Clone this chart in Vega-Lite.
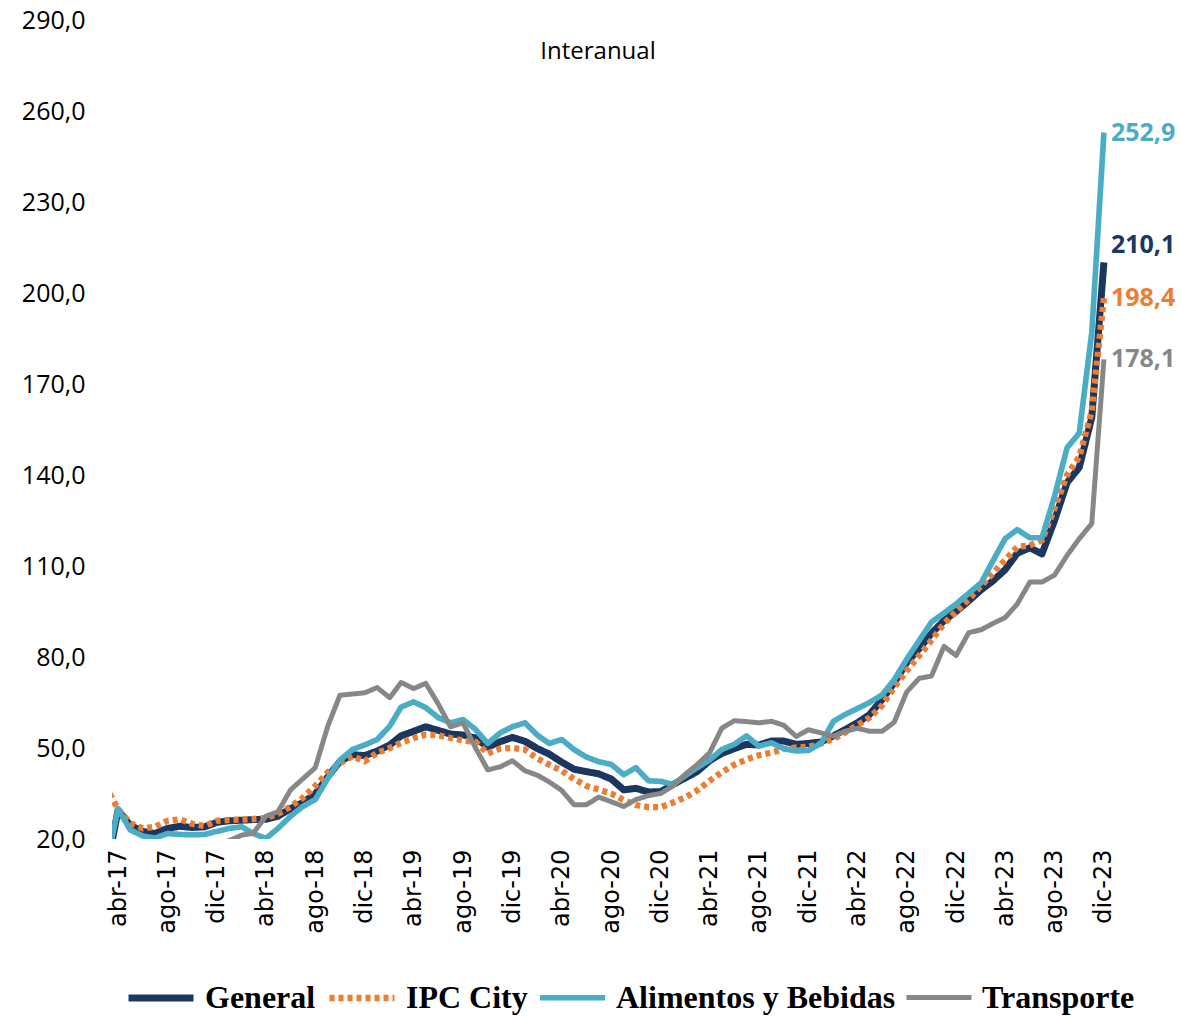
{
  "$schema": "https://vega.github.io/schema/vega-lite/v6.json",
  "width": 998,
  "height": 819,
  "autosize": {"type": "none"},
  "padding": {"left": 112, "top": 20, "right": 71, "bottom": 177},
  "background": "white",
  "config": {
    "view": {"stroke": null},
    "locale": {"number": {"decimal": ",", "thousands": ".", "grouping": [3], "currency": ["$", ""]}}
  },
  "title": {"text": "Interanual", "font": "Open Sans", "fontSize": 24, "fontWeight": 500, "color": "black", "anchor": "middle", "dx": -13, "dy": 60},
  "data": {"values": [
    {"fecha": "2017-03-01", "General": 8, "IPC City": 37.5, "Alimentos y Bebidas": 10, "Transporte": 15},
    {"fecha": "2017-04-01", "General": 29.5, "IPC City": 29.8, "Alimentos y Bebidas": 30.0, "Transporte": 15.5},
    {"fecha": "2017-05-01", "General": 24.5, "IPC City": 25.2, "Alimentos y Bebidas": 23.0, "Transporte": 16},
    {"fecha": "2017-06-01", "General": 22.5, "IPC City": 23.5, "Alimentos y Bebidas": 21.0, "Transporte": 16},
    {"fecha": "2017-07-01", "General": 21.8, "IPC City": 24.0, "Alimentos y Bebidas": 20.3, "Transporte": 16.5},
    {"fecha": "2017-08-01", "General": 23.5, "IPC City": 26.0, "Alimentos y Bebidas": 21.8, "Transporte": 16.5},
    {"fecha": "2017-09-01", "General": 24.2, "IPC City": 26.5, "Alimentos y Bebidas": 21.5, "Transporte": 17},
    {"fecha": "2017-10-01", "General": 23.8, "IPC City": 25.0, "Alimentos y Bebidas": 21.4, "Transporte": 17},
    {"fecha": "2017-11-01", "General": 24.0, "IPC City": 24.3, "Alimentos y Bebidas": 21.5, "Transporte": 17.5},
    {"fecha": "2017-12-01", "General": 25.5, "IPC City": 26.0, "Alimentos y Bebidas": 22.5, "Transporte": 17.5},
    {"fecha": "2018-01-01", "General": 26.0, "IPC City": 26.3, "Alimentos y Bebidas": 23.5, "Transporte": 19.5},
    {"fecha": "2018-02-01", "General": 26.2, "IPC City": 26.4, "Alimentos y Bebidas": 24.0, "Transporte": 21.3},
    {"fecha": "2018-03-01", "General": 26.4, "IPC City": 26.6, "Alimentos y Bebidas": 21.8, "Transporte": 21.9},
    {"fecha": "2018-04-01", "General": 26.5, "IPC City": 26.9, "Alimentos y Bebidas": 20.2, "Transporte": 27.5},
    {"fecha": "2018-05-01", "General": 27.5, "IPC City": 28.3, "Alimentos y Bebidas": 23.5, "Transporte": 29.0},
    {"fecha": "2018-06-01", "General": 30.0, "IPC City": 30.7, "Alimentos y Bebidas": 27.5, "Transporte": 36.2},
    {"fecha": "2018-07-01", "General": 32.0, "IPC City": 33.5, "Alimentos y Bebidas": 30.7, "Transporte": 39.8},
    {"fecha": "2018-08-01", "General": 34.8, "IPC City": 37.5, "Alimentos y Bebidas": 33.0, "Transporte": 43.5},
    {"fecha": "2018-09-01", "General": 40.5, "IPC City": 42.0, "Alimentos y Bebidas": 40.0, "Transporte": 57.2},
    {"fecha": "2018-10-01", "General": 45.6, "IPC City": 45.0, "Alimentos y Bebidas": 46.0, "Transporte": 67.4},
    {"fecha": "2018-11-01", "General": 47.8, "IPC City": 47.3, "Alimentos y Bebidas": 49.5, "Transporte": 67.8},
    {"fecha": "2018-12-01", "General": 47.5, "IPC City": 45.6, "Alimentos y Bebidas": 51.0, "Transporte": 68.2},
    {"fecha": "2019-01-01", "General": 49.0, "IPC City": 48.4, "Alimentos y Bebidas": 52.8, "Transporte": 69.9},
    {"fecha": "2019-02-01", "General": 51.0, "IPC City": 50.0, "Alimentos y Bebidas": 57.2, "Transporte": 66.6},
    {"fecha": "2019-03-01", "General": 54.0, "IPC City": 51.7, "Alimentos y Bebidas": 63.5, "Transporte": 71.6},
    {"fecha": "2019-04-01", "General": 55.5, "IPC City": 53.3, "Alimentos y Bebidas": 65.2, "Transporte": 69.6},
    {"fecha": "2019-05-01", "General": 57.0, "IPC City": 54.4, "Alimentos y Bebidas": 63.3, "Transporte": 71.3},
    {"fecha": "2019-06-01", "General": 55.8, "IPC City": 54.2, "Alimentos y Bebidas": 60.0, "Transporte": 64.5},
    {"fecha": "2019-07-01", "General": 54.6, "IPC City": 53.3, "Alimentos y Bebidas": 58.3, "Transporte": 57.0},
    {"fecha": "2019-08-01", "General": 54.3, "IPC City": 52.5, "Alimentos y Bebidas": 59.4, "Transporte": 58.3},
    {"fecha": "2019-09-01", "General": 53.3, "IPC City": 52.0, "Alimentos y Bebidas": 56.1, "Transporte": 50.0},
    {"fecha": "2019-10-01", "General": 50.3, "IPC City": 48.2, "Alimentos y Bebidas": 51.5, "Transporte": 42.8},
    {"fecha": "2019-11-01", "General": 52.1, "IPC City": 49.8, "Alimentos y Bebidas": 55.0, "Transporte": 43.8},
    {"fecha": "2019-12-01", "General": 53.5, "IPC City": 50.0, "Alimentos y Bebidas": 57.0, "Transporte": 45.8},
    {"fecha": "2020-01-01", "General": 52.2, "IPC City": 49.5, "Alimentos y Bebidas": 58.3, "Transporte": 42.5},
    {"fecha": "2020-02-01", "General": 49.8, "IPC City": 46.5, "Alimentos y Bebidas": 54.2, "Transporte": 41.0},
    {"fecha": "2020-03-01", "General": 48.0, "IPC City": 44.5, "Alimentos y Bebidas": 51.5, "Transporte": 38.8},
    {"fecha": "2020-04-01", "General": 45.3, "IPC City": 42.5, "Alimentos y Bebidas": 52.8, "Transporte": 36.0},
    {"fecha": "2020-05-01", "General": 43.0, "IPC City": 39.8, "Alimentos y Bebidas": 49.5, "Transporte": 31.3},
    {"fecha": "2020-06-01", "General": 42.2, "IPC City": 37.5, "Alimentos y Bebidas": 47.0, "Transporte": 31.3},
    {"fecha": "2020-07-01", "General": 41.5, "IPC City": 36.3, "Alimentos y Bebidas": 45.5, "Transporte": 33.8},
    {"fecha": "2020-08-01", "General": 39.8, "IPC City": 35.0, "Alimentos y Bebidas": 44.6, "Transporte": 32.3},
    {"fecha": "2020-09-01", "General": 36.2, "IPC City": 32.8, "Alimentos y Bebidas": 41.2, "Transporte": 30.7},
    {"fecha": "2020-10-01", "General": 36.7, "IPC City": 31.2, "Alimentos y Bebidas": 43.5, "Transporte": 33.0},
    {"fecha": "2020-11-01", "General": 35.5, "IPC City": 30.5, "Alimentos y Bebidas": 39.2, "Transporte": 34.3},
    {"fecha": "2020-12-01", "General": 35.6, "IPC City": 30.5, "Alimentos y Bebidas": 39.0, "Transporte": 35.0},
    {"fecha": "2021-01-01", "General": 38.0, "IPC City": 32.0, "Alimentos y Bebidas": 38.0, "Transporte": 37.5},
    {"fecha": "2021-02-01", "General": 40.2, "IPC City": 33.8, "Alimentos y Bebidas": 41.0, "Transporte": 41.5},
    {"fecha": "2021-03-01", "General": 42.2, "IPC City": 36.0, "Alimentos y Bebidas": 43.5, "Transporte": 44.5},
    {"fecha": "2021-04-01", "General": 45.8, "IPC City": 39.2, "Alimentos y Bebidas": 46.0, "Transporte": 48.4},
    {"fecha": "2021-05-01", "General": 48.2, "IPC City": 42.0, "Alimentos y Bebidas": 49.5, "Transporte": 56.5},
    {"fecha": "2021-06-01", "General": 49.8, "IPC City": 44.5, "Alimentos y Bebidas": 51.2, "Transporte": 59.0},
    {"fecha": "2021-07-01", "General": 51.2, "IPC City": 46.2, "Alimentos y Bebidas": 54.0, "Transporte": 58.7},
    {"fecha": "2021-08-01", "General": 51.0, "IPC City": 47.6, "Alimentos y Bebidas": 50.6, "Transporte": 58.3},
    {"fecha": "2021-09-01", "General": 52.3, "IPC City": 48.5, "Alimentos y Bebidas": 51.7, "Transporte": 58.8},
    {"fecha": "2021-10-01", "General": 52.3, "IPC City": 49.6, "Alimentos y Bebidas": 49.8, "Transporte": 57.5},
    {"fecha": "2021-11-01", "General": 51.2, "IPC City": 50.2, "Alimentos y Bebidas": 49.0, "Transporte": 53.8},
    {"fecha": "2021-12-01", "General": 51.5, "IPC City": 50.4, "Alimentos y Bebidas": 49.2, "Transporte": 56.0},
    {"fecha": "2022-01-01", "General": 52.0, "IPC City": 51.5, "Alimentos y Bebidas": 51.5, "Transporte": 55.0},
    {"fecha": "2022-02-01", "General": 54.0, "IPC City": 53.0, "Alimentos y Bebidas": 58.8, "Transporte": 53.9},
    {"fecha": "2022-03-01", "General": 56.0, "IPC City": 55.0, "Alimentos y Bebidas": 61.0, "Transporte": 55.5},
    {"fecha": "2022-04-01", "General": 58.3, "IPC City": 57.5, "Alimentos y Bebidas": 63.0, "Transporte": 56.5},
    {"fecha": "2022-05-01", "General": 61.0, "IPC City": 60.0, "Alimentos y Bebidas": 65.0, "Transporte": 55.5},
    {"fecha": "2022-06-01", "General": 66.0, "IPC City": 64.0, "Alimentos y Bebidas": 67.5, "Transporte": 55.5},
    {"fecha": "2022-07-01", "General": 71.5, "IPC City": 70.0, "Alimentos y Bebidas": 72.5, "Transporte": 58.5},
    {"fecha": "2022-08-01", "General": 78.2, "IPC City": 75.5, "Alimentos y Bebidas": 79.3, "Transporte": 68.5},
    {"fecha": "2022-09-01", "General": 82.8, "IPC City": 80.5, "Alimentos y Bebidas": 85.5, "Transporte": 73.0},
    {"fecha": "2022-10-01", "General": 87.8, "IPC City": 85.5, "Alimentos y Bebidas": 91.5, "Transporte": 73.7},
    {"fecha": "2022-11-01", "General": 92.0, "IPC City": 91.0, "Alimentos y Bebidas": 94.5, "Transporte": 83.5},
    {"fecha": "2022-12-01", "General": 95.0, "IPC City": 95.0, "Alimentos y Bebidas": 97.5, "Transporte": 80.5},
    {"fecha": "2023-01-01", "General": 98.5, "IPC City": 99.0, "Alimentos y Bebidas": 101.0, "Transporte": 88.0},
    {"fecha": "2023-02-01", "General": 102.2, "IPC City": 103.5, "Alimentos y Bebidas": 104.5, "Transporte": 89.0},
    {"fecha": "2023-03-01", "General": 105.0, "IPC City": 107.5, "Alimentos y Bebidas": 111.5, "Transporte": 91.0},
    {"fecha": "2023-04-01", "General": 108.8, "IPC City": 112.0, "Alimentos y Bebidas": 119.0, "Transporte": 93.0},
    {"fecha": "2023-05-01", "General": 114.2, "IPC City": 116.3, "Alimentos y Bebidas": 122.0, "Transporte": 97.5},
    {"fecha": "2023-06-01", "General": 116.0, "IPC City": 116.8, "Alimentos y Bebidas": 119.3, "Transporte": 104.7},
    {"fecha": "2023-07-01", "General": 114.0, "IPC City": 118.5, "Alimentos y Bebidas": 119.3, "Transporte": 104.7},
    {"fecha": "2023-08-01", "General": 125.0, "IPC City": 129.0, "Alimentos y Bebidas": 133.0, "Transporte": 107.0},
    {"fecha": "2023-09-01", "General": 137.5, "IPC City": 140.0, "Alimentos y Bebidas": 149.0, "Transporte": 113.5},
    {"fecha": "2023-10-01", "General": 142.5, "IPC City": 146.0, "Alimentos y Bebidas": 153.8, "Transporte": 119.0},
    {"fecha": "2023-11-01", "General": 159.0, "IPC City": 161.0, "Alimentos y Bebidas": 187.0, "Transporte": 124.0},
    {"fecha": "2023-12-01", "General": 210.1, "IPC City": 198.4, "Alimentos y Bebidas": 252.9, "Transporte": 178.1}
  ]},
  "transform": [
    {"fold": ["General", "IPC City", "Alimentos y Bebidas", "Transporte"], "as": ["serie", "valor"]}
  ],
  "encoding": {
    "x": {
      "field": "fecha", "type": "temporal",
      "scale": {"type": "utc", "domain": [{"year": 2017, "month": 3, "date": 17, "utc": true}, {"year": 2023, "month": 12, "date": 16, "utc": true}]},
      "axis": {
        "values": [
          {"year": 2017, "month": 4, "date": 1, "utc": true}, {"year": 2017, "month": 8, "date": 1, "utc": true}, {"year": 2017, "month": 12, "date": 1, "utc": true},
          {"year": 2018, "month": 4, "date": 1, "utc": true}, {"year": 2018, "month": 8, "date": 1, "utc": true}, {"year": 2018, "month": 12, "date": 1, "utc": true},
          {"year": 2019, "month": 4, "date": 1, "utc": true}, {"year": 2019, "month": 8, "date": 1, "utc": true}, {"year": 2019, "month": 12, "date": 1, "utc": true},
          {"year": 2020, "month": 4, "date": 1, "utc": true}, {"year": 2020, "month": 8, "date": 1, "utc": true}, {"year": 2020, "month": 12, "date": 1, "utc": true},
          {"year": 2021, "month": 4, "date": 1, "utc": true}, {"year": 2021, "month": 8, "date": 1, "utc": true}, {"year": 2021, "month": 12, "date": 1, "utc": true},
          {"year": 2022, "month": 4, "date": 1, "utc": true}, {"year": 2022, "month": 8, "date": 1, "utc": true}, {"year": 2022, "month": 12, "date": 1, "utc": true},
          {"year": 2023, "month": 4, "date": 1, "utc": true}, {"year": 2023, "month": 8, "date": 1, "utc": true}, {"year": 2023, "month": 12, "date": 1, "utc": true}
        ],
        "labelExpr": "['ene','feb','mar','abr','may','jun','jul','ago','sep','oct','nov','dic'][utcmonth(datum.value)] + '-' + utcFormat(datum.value, '%y')",
        "labelAngle": -90, "labelAlign": "right", "labelBaseline": "middle",
        "labelFont": "DejaVu Sans", "labelFontSize": 24, "labelColor": "black",
        "labelPadding": 10, "labelOverlap": false, "labelFlush": false,
        "ticks": false, "domain": false, "grid": false, "title": null
      }
    },
    "y": {
      "field": "valor", "type": "quantitative",
      "scale": {"domain": [20, 290], "nice": false, "zero": false},
      "axis": {
        "values": [20, 50, 80, 110, 140, 170, 200, 230, 260, 290],
        "format": ".1f",
        "labelFont": "Open Sans", "labelFontSize": 25, "labelColor": "black",
        "labelPadding": 27, "ticks": false, "domain": false, "grid": false, "title": null
      }
    },
    "color": {
      "field": "serie", "type": "nominal",
      "scale": {"domain": ["General", "IPC City", "Alimentos y Bebidas", "Transporte"], "range": ["#1B365F", "#ED7D31", "#4BACC6", "#878787"]},
      "legend": {
        "orient": "none", "legendX": 13, "legendY": 942, "direction": "horizontal", "title": null,
        "symbolType": "stroke", "symbolSize": 4225,
        "labelFont": "Liberation Serif", "labelFontSize": 32, "labelFontWeight": "bold", "labelColor": "black",
        "labelOffset": 8, "columnPadding": 0, "labelLimit": 0
      }
    }
  },
  "layer": [
    {
      "mark": {"type": "line", "clip": true, "strokeCap": "butt", "strokeJoin": "round"},
      "encoding": {
        "strokeDash": {"field": "serie", "type": "nominal", "scale": {"domain": ["General", "IPC City", "Alimentos y Bebidas", "Transporte"], "range": [[1, 0], [5, 4], [1, 0], [1, 0]]}},
        "strokeWidth": {"field": "serie", "type": "nominal", "scale": {"domain": ["General", "IPC City", "Alimentos y Bebidas", "Transporte"], "range": [7, 5, 4.5, 4.5]}}
      }
    },
    {
      "transform": [{"filter": "utcyear(datum.fecha) == 2023 && utcmonth(datum.fecha) == 11 && datum.serie != 'General'"}],
      "mark": {"type": "text", "align": "left", "baseline": "middle", "dx": 7, "font": "Open Sans", "fontSize": 25, "fontWeight": "bold"},
      "encoding": {"text": {"field": "valor", "type": "quantitative", "format": ".1f"}}
    },
    {
      "transform": [{"filter": "utcyear(datum.fecha) == 2023 && utcmonth(datum.fecha) == 11 && datum.serie == 'General'"}],
      "mark": {"type": "text", "align": "left", "baseline": "middle", "dx": 7, "dy": -17, "font": "Open Sans", "fontSize": 25, "fontWeight": "bold"},
      "encoding": {"text": {"field": "valor", "type": "quantitative", "format": ".1f"}}
    }
  ]
}
